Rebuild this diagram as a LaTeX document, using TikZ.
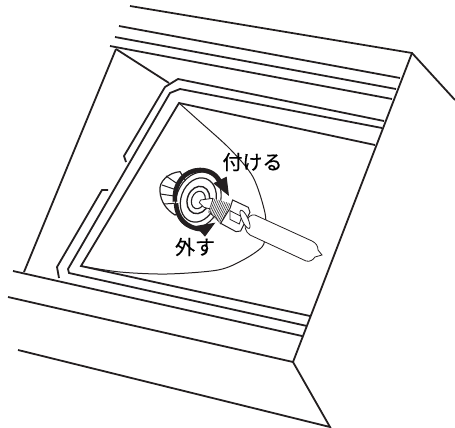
\documentclass[tikz,border=0pt]{standalone}
\usepackage{fontspec}
\newfontfamily\jpfont[FakeBold=0.5]{Noto Sans CJK JP}
\usetikzlibrary{calc}
\definecolor{inkBlack}{RGB}{35, 31, 32}

\begin{document}
\begin{tikzpicture}[
  x=1pt, y=-1pt,
  frame/.style={draw=inkBlack, line width=1.8pt, line join=miter},
  thinline/.style={draw=inkBlack, line width=1pt},
  hair/.style={draw=inkBlack, line width=0.5pt},
  lamp/.style={draw=inkBlack, line width=0.8pt, fill=white},
  ring/.style={draw=inkBlack, line width=1.1pt},
  turn/.style={draw=inkBlack, line width=4.6pt},
  turnhead/.style={fill=inkBlack, draw=none},
  caption/.style={font=\jpfont\fontsize{20}{20}\selectfont, text=black, inner sep=0pt}
]
  \useasboundingbox (0,0) rectangle (455,428);

  % -- Housing --
  \draw[frame] (130,6) -- (412,53) -- (455,100);
  \draw[frame] (412,53) -- (293,362) -- (330,427) -- (18,350);
  \draw[frame] (8,297) -- (293,362);
  \draw[frame] (119,26) -- (400,78);
  \draw[frame] (115,37) -- (396,89);
  \draw[frame] (110,46) -- (392,99);
  \draw[frame] (116,49) -- (24,272);
  \draw[frame] (116,49) -- (169,83);
  \draw[frame] (13,271) -- (302,336);

  % -- Inner frames --
  \draw[frame] (126,162) -- (124,156) -- (165,87) -- (178,79) -- (384,121);
  \draw[frame] (108,190) -- (102,190) -- (57,267) -- (59,278);
  \draw[frame] (382,128) -- (180,89) -- (170,93) -- (68,269) -- (69,273) -- (307,326);
  \draw[frame] (375,145) -- (179,103) -- (81,266) -- (310,316);

  % -- Reflector --
  \draw[thinline] plot[smooth] coordinates {(179,103) (198,120) (230,149) (253,177) (265,213) (265,235) (262,247) (243,260) (218,270) (167,274) (120,272) (81,266)};

  % -- Lamp (bulb) --
  \draw[lamp] (255,215) -- (312,241) .. controls (316,243) and (318,246) .. (318,250) -- (322,255) -- (315,257) .. controls (313,260) and (310,262) .. (306,261) -- (250,235) .. controls (245,232) and (244,225) .. (246,222) .. controls (248,217) and (251,214) .. (255,215) -- cycle;

  % -- Lamp base, in a grid three times as fine --
  \begin{scope}[shift={(130,120)}, x=0.3333pt, y=-0.3333pt]
    \draw[lamp, line width=1.2pt] (150,155) .. controls (115,158) and (85,185) .. (90,215) .. controls (92,245) and (110,270) .. (135,285) -- (210,250) -- cycle;
    \draw[hair, line width=1pt] (108,168) -- (140,190);
    \draw[hair, line width=1pt] (96,195) -- (134,208);
    \draw[hair, line width=1pt] (91,222) -- (132,228);
    \draw[hair, line width=1pt] (102,252) -- (134,250);

    \draw[ring, fill=white, rotate around={-20:(205,240)}] (205,240) ellipse (66 and 86);
    \draw[ring, line width=1.2pt, rotate around={-20:(205,240)}] (205,240) ellipse (52 and 68);
    \draw[ring, line width=1.4pt, rotate around={-20:(205,240)}] (205,240) ellipse (33 and 42);
    \draw[ring, rotate around={-20:(205,240)}] (205,240) ellipse (20 and 27);

    % shaft
    \draw[lamp] (208,248) -- (212,240) -- (248,235) -- (245,268) -- (222,262) -- cycle;

    % thread
    \fill[white] (250,235) -- (300,250) -- (275,310) -- (240,275) -- cycle;
    \foreach \T in {0,0.1,...,1.01} {
      \draw[hair] ($(250,235)!\T!(300,250)$) .. controls +(-8,22) and +(-10,12) .. ($(240,275)!\T!(275,310)$);
    }

    % nut
    \draw[lamp, line width=1pt] (308,240) -- (355,262) -- (360,277) -- (332,333) -- (318,335) -- (272,310) -- (300,265) -- cycle;
    \draw[lamp] (300,272) -- (335,290) -- (328,312) -- (300,298) -- cycle;
    \draw[lamp, rotate around={25:(345,298)}] (345,298) ellipse (9 and 30);

    % -- Turning arrows --
    \draw[turn] (135,245) .. controls (130,190) and (165,150) .. (210,150) .. controls (240,150) and (262,165) .. (272,190);
    \fill[turnhead] (250,190) -- (290,170) -- (297,228) -- cycle;
    \draw[turn] (138,250) .. controls (140,295) and (170,325) .. (215,328);
    \fill[turnhead] (196,318) -- (256,308) -- (225,350) -- cycle;
  \end{scope}

  % -- Labels --
  \node[caption] (attach) at (252.5,162) {付ける};
  \node[caption] (remove) at (195,247) {外す};
\end{tikzpicture}
\end{document}
